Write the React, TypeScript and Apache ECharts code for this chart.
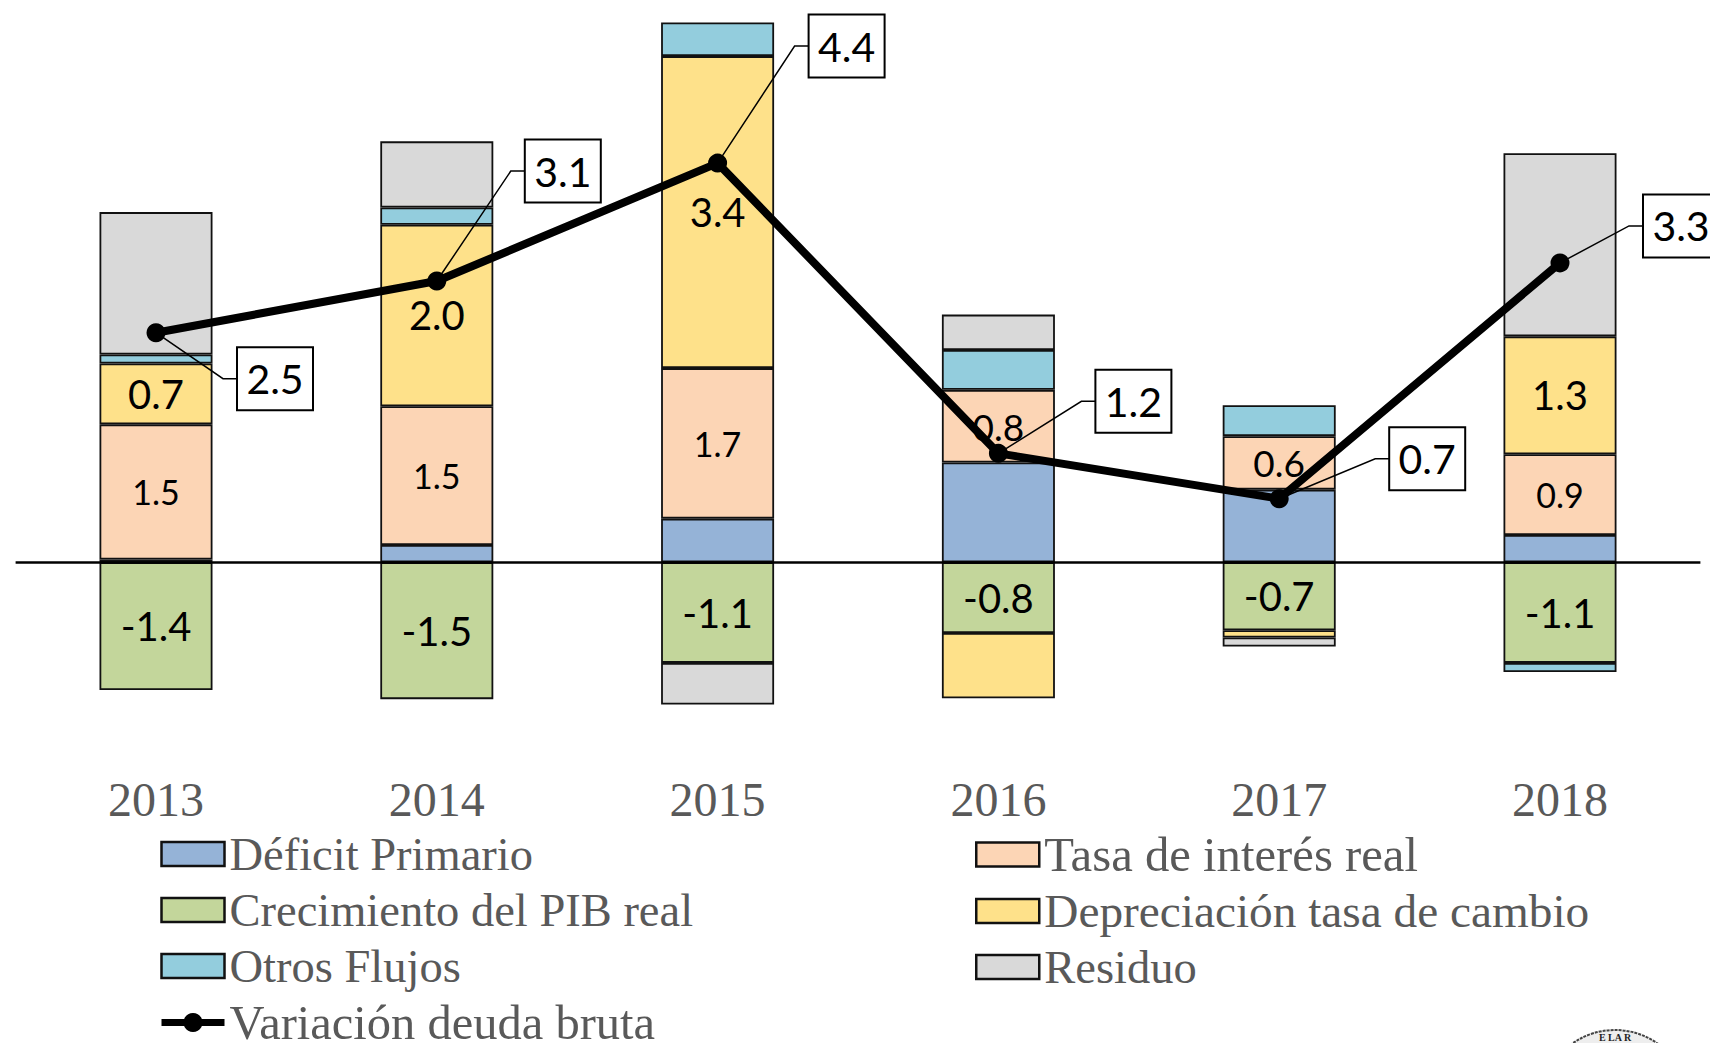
import React, { useEffect, useRef } from "react";
import * as echarts from "echarts";

const years = ["2013", "2014", "2015", "2016", "2017", "2018"];
const deficitPrimario = [0.03, 0.19, 0.48, 1.1, 0.8, 0.3];
const crecimientoPib = [-1.41, -1.51, -1.11, -0.78, -0.75, -1.11];
const tasaInteres = [1.49, 1.53, 1.66, 0.8, 0.59, 0.89];
const depreciacion = [0.67, 2.0, 3.44, -0.72, -0.08, 1.3];
const otrosFlujos = [0.1, 0.19, 0.37, 0.44, 0.34, -0.1];
const residuo = [1.57, 0.73, -0.46, 0.39, -0.1, 2.02];
const variacionDeuda = [2.53, 3.1, 4.4, 1.2, 0.7, 3.3];

const crecimientoLabels = ["-1.4", "-1.5", "-1.1", "-0.8", "-0.7", "-1.1"];
const tasaLabels = ["1.5", "1.5", "1.7", "0.8", "0.6", "0.9"];
const depreciacionLabels = ["0.7", "2.0", "3.4", "", "", "1.3"];
const variacionLabels = ["2.5", "3.1", "4.4", "1.2", "0.7", "3.3"];

const tasaFontSizes = [34, 34, 34, 37, 37, 34];
const calloutOffsets = [
  [119, 46],
  [126, -110],
  [129, -117],
  [135, -52],
  [148, -40],
  [121, -37],
];

const LABEL_FONT = "Lato, sans-serif";
const AXIS_FONT = "'Liberation Serif', serif";
const GREY_TEXT = "#595959";

function barSeries(name: string, values: number[], color: string, labels?: string[], sizes?: number[]) {
  return {
    name,
    type: "bar",
    stack: "total",
    barWidth: 113,
    z: 2,
    itemStyle: { color, borderColor: "#111", borderWidth: 1.8 },
    label: {
      show: !!labels,
      position: "inside",
      color: "#000",
      fontFamily: LABEL_FONT,
      fontSize: 40,
      formatter: (p: any) => (labels ? labels[p.dataIndex] : ""),
    },
    data: values.map((v, i) => ({
      value: v,
      label: sizes ? { fontSize: sizes[i] } : undefined,
    })),
  };
}

export default function App() {
  const ref = useRef<HTMLDivElement>(null);
  useEffect(() => {
    const chart = echarts.init(ref.current!, undefined, { renderer: "svg" });
    const legendCommon = {
      orient: "vertical",
      top: 825,
      itemWidth: 63,
      itemHeight: 24,
      itemGap: 8,
      textStyle: { fontFamily: AXIS_FONT, fontSize: 46.5, color: GREY_TEXT, lineHeight: 48 },
    };
    const box = (name: string, fontSize = 46.5) => ({
      name,
      icon: "rect",
      itemStyle: { borderColor: "#111", borderWidth: 2.5 },
      textStyle: { fontSize },
    });
    chart.setOption({
      animation: false,
      backgroundColor: "#fff",
      grid: { left: 15.6, right: 9.6, top: 18, height: 725.6 },
      xAxis: {
        type: "category",
        data: years,
        axisLine: { show: false },
        axisTick: { show: false },
        axisLabel: { margin: 32, fontFamily: AXIS_FONT, fontSize: 48, color: GREY_TEXT },
      },
      yAxis: { type: "value", min: -2, max: 6, interval: 2, show: false, splitLine: { show: false } },
      legend: [
        {
          ...legendCommon,
          left: 153,
          data: [
            box("Déficit Primario"),
            box("Crecimiento del PIB real"),
            box("Otros Flujos"),
            { name: "Variación deuda bruta", lineStyle: { width: 7 }, textStyle: { fontSize: 48.5 } },
          ],
        },
        {
          ...legendCommon,
          left: 970,
          data: [box("Tasa de interés real", 48.7), box("Depreciación tasa de cambio", 47.3), box("Residuo")],
        },
      ],
      series: [
        barSeries("Déficit Primario", deficitPrimario, "#95B3D7"),
        barSeries("Crecimiento del PIB real", crecimientoPib, "#C3D69B", crecimientoLabels),
        barSeries("Tasa de interés real", tasaInteres, "#FCD5B5", tasaLabels, tasaFontSizes),
        barSeries("Depreciación tasa de cambio", depreciacion, "#FEE18A", depreciacionLabels),
        barSeries("Otros Flujos", otrosFlujos, "#93CDDD"),
        barSeries("Residuo", residuo, "#D9D9D9"),
        {
          name: "callouts",
          type: "custom",
          z: 4,
          silent: true,
          data: variacionDeuda.map((v, i) => [i, v]),
          encode: { x: 0, y: 1 },
          clip: false,
          renderItem: (_: any, api: any) => {
            const i = api.value(0);
            const [px, py] = api.coord([i, api.value(1)]);
            const [dx, dy] = calloutOffsets[i];
            const cx = px + dx;
            const cy = py + dy;
            const w = 76;
            const h = 63;
            return {
              type: "group",
              children: [
                {
                  type: "polyline",
                  shape: { points: [[px, py], [cx - w / 2 - 14, cy], [cx - w / 2, cy]] },
                  style: { stroke: "#000", lineWidth: 1.5, fill: "none" },
                },
                {
                  type: "rect",
                  shape: { x: cx - w / 2, y: cy - h / 2, width: w, height: h },
                  style: { fill: "#fff", stroke: "#000", lineWidth: 2 },
                },
                {
                  type: "text",
                  style: {
                    text: variacionLabels[i],
                    x: cx,
                    y: cy,
                    align: "center",
                    verticalAlign: "middle",
                    fontFamily: LABEL_FONT,
                    fontSize: 41,
                    fill: "#000",
                  },
                },
              ],
            };
          },
        },
        {
          name: "Variación deuda bruta",
          type: "line",
          z: 5,
          data: variacionDeuda,
          symbol: "circle",
          symbolSize: 19,
          itemStyle: { color: "#000" },
          lineStyle: { color: "#000", width: 8 },
          markLine: {
            silent: true,
            symbol: "none",
            label: { show: false },
            lineStyle: { color: "#000", width: 2.5, type: "solid" },
            data: [{ yAxis: 0 }],
          },
        },
      ],
      graphic: [
        {
          type: "circle",
          shape: { cx: 1615, cy: 1104, r: 74 },
          style: { fill: "#eee", stroke: "#444", lineWidth: 2, lineDash: [3, 1] },
        },
        {
          type: "text",
          style: {
            text: "E LA R",
            x: 1615,
            y: 1037,
            align: "center",
            verticalAlign: "middle",
            fontFamily: AXIS_FONT,
            fontWeight: "bold",
            fontSize: 10,
            fill: "#222",
          },
        },
      ],
    });
    return () => chart.dispose();
  }, []);
  return (
    <div style={{ position: "absolute", left: 0, top: 0, width: 1710, height: 1043, overflow: "hidden" }}>
      <div ref={ref} style={{ width: 1710, height: 1190 }} />
    </div>
  );
}
